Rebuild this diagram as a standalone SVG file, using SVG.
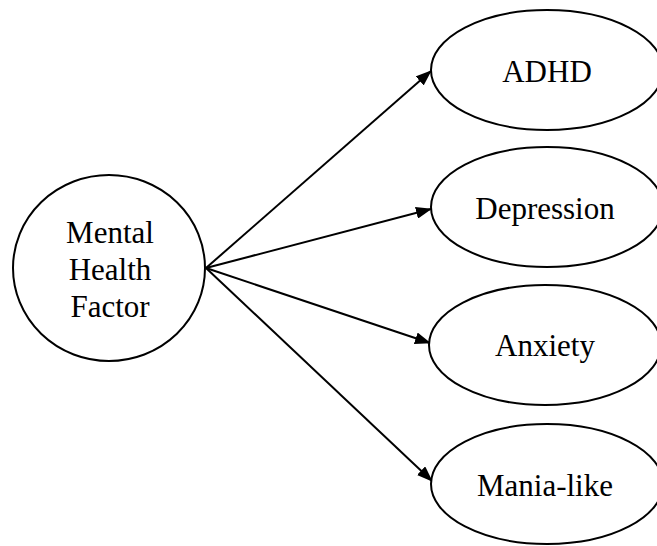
<svg xmlns="http://www.w3.org/2000/svg" width="657" height="546" viewBox="0 0 657 546">
<style>
.shape{fill:#fff;stroke:#000;stroke-width:2}
.lbl{font-family:"Liberation Serif","Times New Roman",serif;font-size:31px;fill:#000;text-anchor:middle}
.edge{stroke:#000;stroke-width:2;fill:none;marker-end:url(#arr)}
</style>
<defs>
<marker id="arr" markerWidth="16" markerHeight="12" refX="15" refY="6" orient="auto" markerUnits="userSpaceOnUse">
<path d="M0,0 L16,6 L0,12 Z" fill="#000"/>
</marker>
</defs>
<rect width="657" height="546" fill="#fff"/>
<g id="connectors">
<line class="edge" x1="206" y1="268" x2="431" y2="71"/>
<line class="edge" x1="206" y1="268" x2="431" y2="209"/>
<line class="edge" x1="206" y1="268" x2="430" y2="343"/>
<line class="edge" x1="206" y1="268" x2="432" y2="481"/>
</g>
<g id="mental">
<ellipse class="shape" cx="109" cy="268" rx="96" ry="93"/>
<text class="lbl" x="110" y="243">Mental</text>
<text class="lbl" x="110" y="280">Health</text>
<text class="lbl" x="110" y="317">Factor</text>
</g>
<g id="adhd">
<ellipse class="shape" cx="547" cy="70" rx="116" ry="60"/>
<text class="lbl" x="547" y="82">ADHD</text>
</g>
<g id="depression">
<ellipse class="shape" cx="547" cy="207" rx="116" ry="60"/>
<text class="lbl" x="545" y="219">Depression</text>
</g>
<g id="anxiety">
<ellipse class="shape" cx="545" cy="345" rx="116" ry="60"/>
<text class="lbl" x="545" y="356">Anxiety</text>
</g>
<g id="mania">
<ellipse class="shape" cx="547" cy="484" rx="116" ry="60"/>
<text class="lbl" x="545" y="496">Mania-like</text>
</g>
</svg>
